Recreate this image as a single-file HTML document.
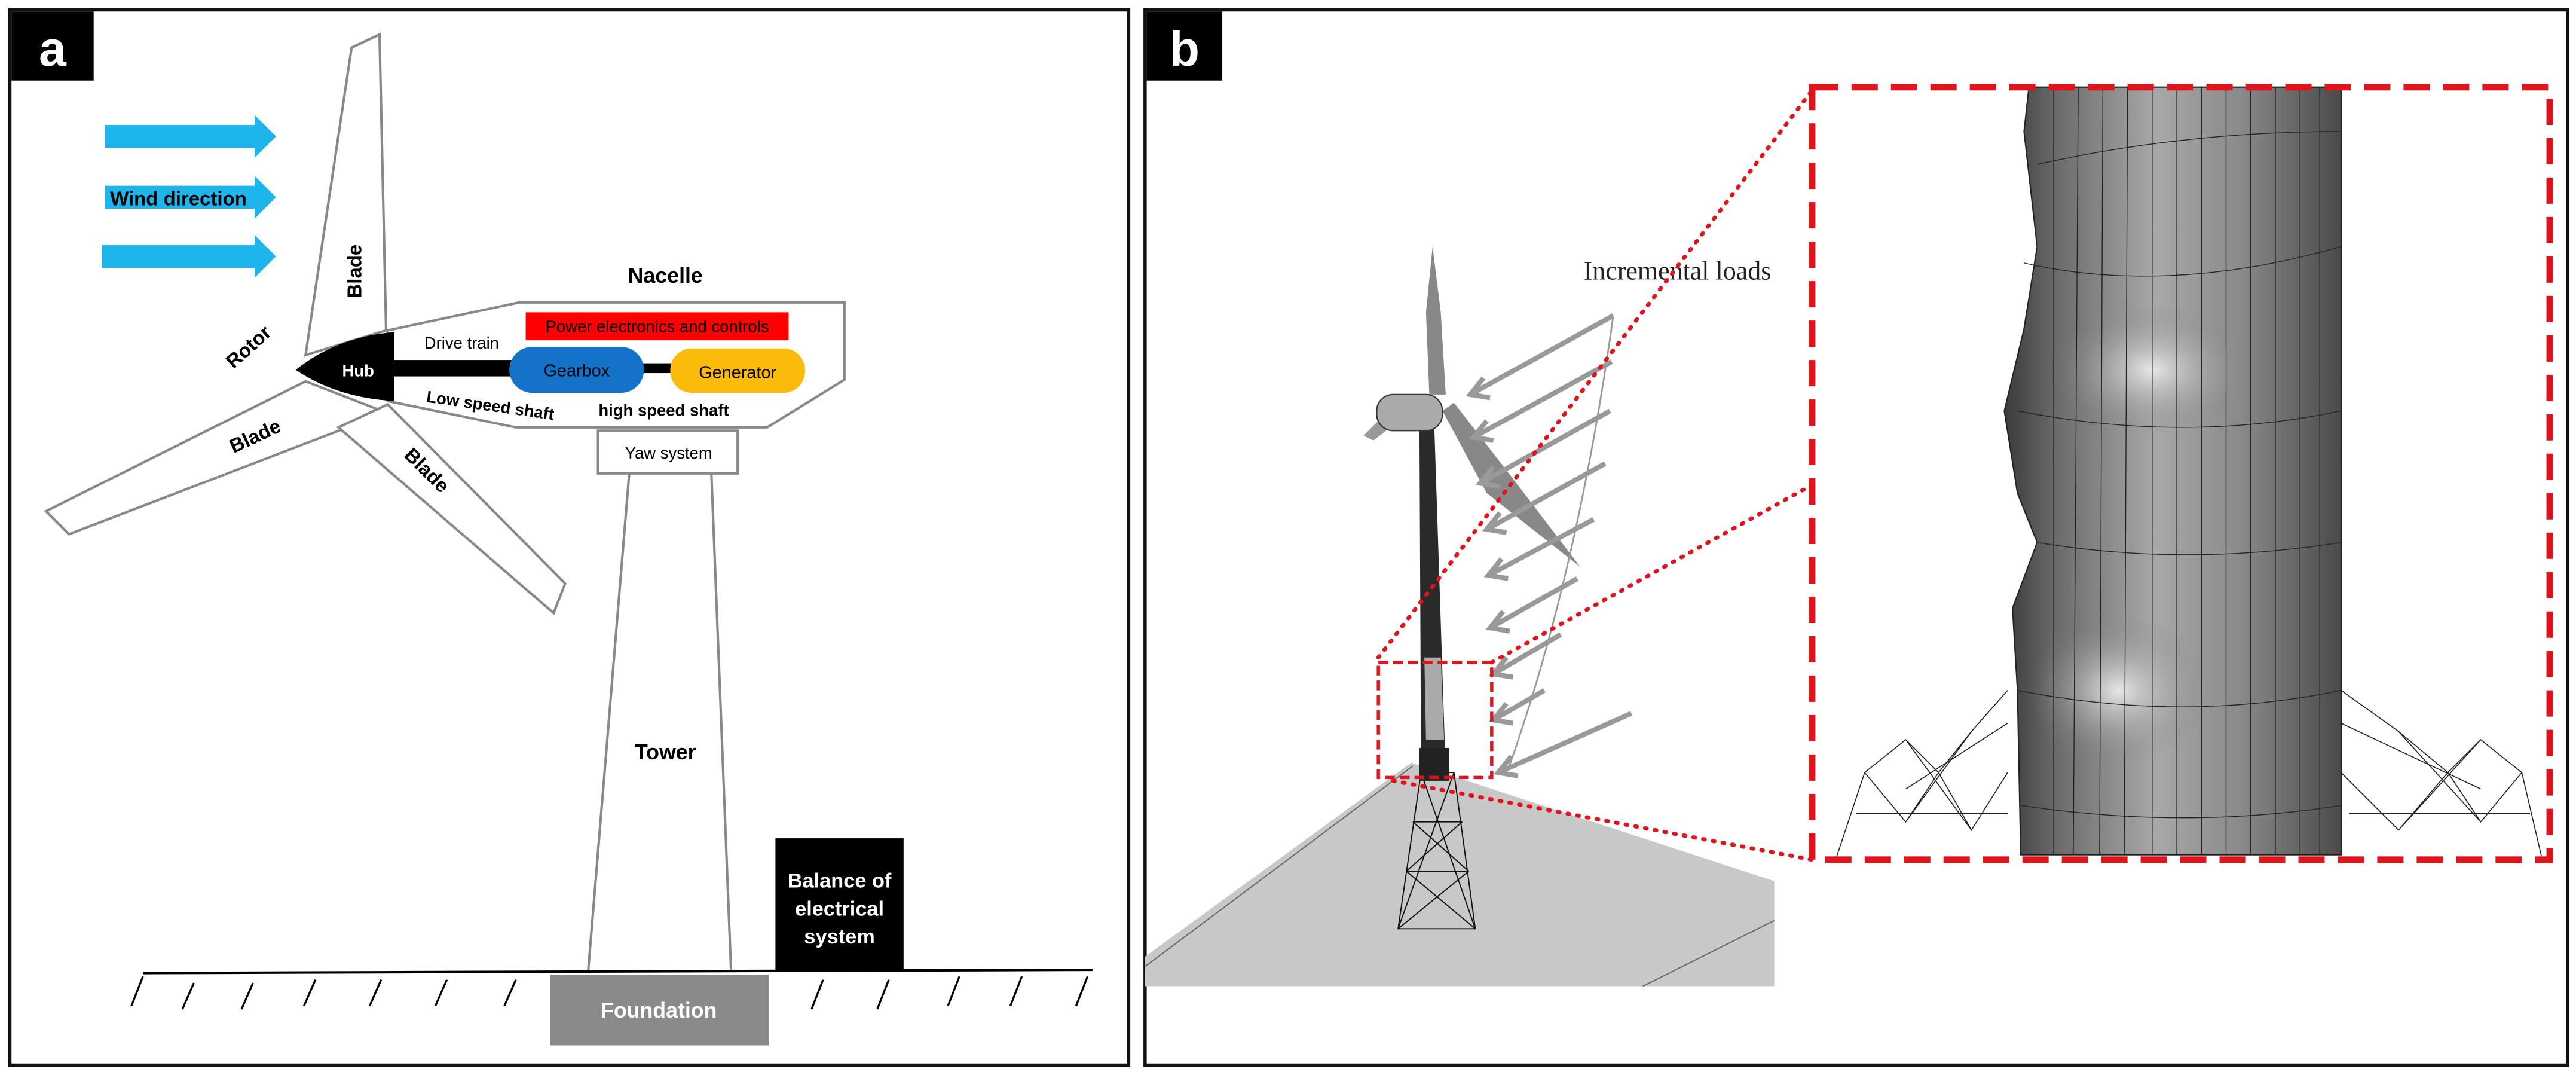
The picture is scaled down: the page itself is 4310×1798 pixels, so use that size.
<!DOCTYPE html>
<html><head><meta charset="utf-8"><style>
html,body{margin:0;padding:0;background:#fff;}
svg{display:block;}
text{font-family:"Liberation Sans",Arial,sans-serif;}
</style></head><body>
<svg width="4310" height="1798" viewBox="0 0 1568 654" preserveAspectRatio="none" xmlns="http://www.w3.org/2000/svg">
<defs>
<linearGradient id="cyl" x1="0" y1="0" x2="1" y2="0">
<stop offset="0" stop-color="#3a3a3a"/><stop offset="0.15" stop-color="#6a6a6a"/><stop offset="0.45" stop-color="#a8a8a8"/><stop offset="0.7" stop-color="#8a8a8a"/><stop offset="1" stop-color="#4a4a4a"/>
</linearGradient>
<radialGradient id="bul" cx="0.5" cy="0.5" r="0.5"><stop offset="0" stop-color="#e8e8e8"/><stop offset="1" stop-color="#808080" stop-opacity="0"/></radialGradient>
</defs>
<rect width="1568" height="654" fill="#fff"/>
<!-- Panel a -->
<rect x="6" y="6" width="681" height="642" fill="#fff" stroke="#111" stroke-width="2"/>
<rect x="7" y="7" width="50" height="42" fill="#000"/>
<text x="32" y="40" font-size="30" font-weight="bold" fill="#fff" text-anchor="middle">a</text>
<g fill="#1eb4ec">
<polygon points="64,76 155,76 155,70 168,83 155,96 155,90 64,90"/>
<polygon points="64,113 155,113 155,107 168,120 155,133 155,127 64,127"/>
<polygon points="62,149 155,149 155,143 168,156 155,169 155,163 62,163"/>
</g>
<text x="67" y="125" font-size="12" font-weight="bold" fill="#000">Wind direction</text>
<g fill="#fff" stroke="#888" stroke-width="1.5">
<polygon points="214,29 231,21 235,201 186,216"/>
<polygon points="186,232 28,311 42,325 235,251"/>
<polygon points="206,260 337,373 344,355 236,246"/>
<polygon points="236,201 316,184 514,184 514,231 467,260 314,260 236,244"/>
<rect x="364" y="262" width="85" height="26"/>
</g>
<path d="M180,225 Q205,205 240,202 L240,244 Q205,242 180,225 Z" fill="#000"/>
<text x="218" y="229" font-size="10" font-weight="bold" fill="#fff" text-anchor="middle">Hub</text>
<rect x="320" y="190" width="160" height="17" fill="#f00"/>
<text x="400" y="202" font-size="10" fill="#000" text-anchor="middle">Power electronics and controls</text>
<rect x="240" y="219" width="72" height="10" fill="#000"/>
<rect x="390" y="221" width="20" height="6" fill="#000"/>
<rect x="310" y="211" width="82" height="28" rx="14" fill="#1473c9"/>
<text x="351" y="229" font-size="10.5" fill="#000" text-anchor="middle">Gearbox</text>
<rect x="408" y="212" width="82" height="27" rx="13" fill="#fbbb0b"/>
<text x="449" y="230" font-size="10.5" fill="#000" text-anchor="middle">Generator</text>
<text x="405" y="172" font-size="13" font-weight="bold" text-anchor="middle">Nacelle</text>
<text x="281" y="212" font-size="10" text-anchor="middle">Drive train</text>
<text x="298" y="250" font-size="10" font-weight="bold" text-anchor="middle" transform="rotate(8 298 250)">Low speed shaft</text>
<text x="404" y="253" font-size="10" font-weight="bold" text-anchor="middle">high speed shaft</text>
<text x="407" y="279" font-size="10" text-anchor="middle">Yaw system</text>
<text x="154" y="214" font-size="12" font-weight="bold" text-anchor="middle" transform="rotate(-42 154 214)">Rotor</text>
<text x="220" y="165" font-size="12" font-weight="bold" text-anchor="middle" transform="rotate(-90 220 165)">Blade</text>
<text x="157" y="269" font-size="12" font-weight="bold" text-anchor="middle" transform="rotate(-25 157 269)">Blade</text>
<text x="257" y="289" font-size="12" font-weight="bold" text-anchor="middle" transform="rotate(45 257 289)">Blade</text>
<g stroke="#888" stroke-width="1.5" fill="none">
<line x1="383" y1="288" x2="358" y2="591"/>
<line x1="433" y1="288" x2="445" y2="591"/>
</g>
<text x="405" y="462" font-size="13" font-weight="bold" text-anchor="middle">Tower</text>
<rect x="472" y="510" width="78" height="81" fill="#000"/>
<text x="511" y="540" font-size="12.5" font-weight="bold" fill="#fff" text-anchor="middle">Balance of</text>
<text x="511" y="557" font-size="12.5" font-weight="bold" fill="#fff" text-anchor="middle">electrical</text>
<text x="511" y="574" font-size="12.5" font-weight="bold" fill="#fff" text-anchor="middle">system</text>
<line x1="87" y1="592" x2="665" y2="590" stroke="#000" stroke-width="1.5"/>
<g stroke="#000" stroke-width="1.2">
<line x1="87" y1="594" x2="80" y2="612"/><line x1="118" y1="598" x2="111" y2="614"/>
<line x1="154" y1="598" x2="147" y2="614"/><line x1="192" y1="596" x2="185" y2="612"/>
<line x1="232" y1="596" x2="225" y2="612"/><line x1="272" y1="596" x2="265" y2="612"/>
<line x1="314" y1="596" x2="307" y2="612"/>
<line x1="501" y1="596" x2="494" y2="614"/><line x1="541" y1="596" x2="534" y2="614"/>
<line x1="584" y1="594" x2="577" y2="612"/><line x1="622" y1="594" x2="615" y2="612"/>
<line x1="662" y1="594" x2="655" y2="612"/>
</g>
<rect x="335" y="593" width="133" height="43" fill="#8a8a8a"/>
<text x="401" y="619" font-size="13" font-weight="bold" fill="#fff" text-anchor="middle">Foundation</text>
<!-- Panel b -->
<rect x="697" y="6" width="866" height="642" fill="#fff" stroke="#111" stroke-width="2"/>
<rect x="698" y="7" width="46" height="42" fill="#000"/>
<text x="721" y="40" font-size="30" font-weight="bold" fill="#fff" text-anchor="middle">b</text>
<polygon points="697,582 859,464 1080,536 1080,600 697,600" fill="#c8c8c8"/>
<line x1="697" y1="588" x2="860" y2="466" stroke="#666" stroke-width="0.7"/>
<line x1="1000" y1="600" x2="1080" y2="560" stroke="#666" stroke-width="0.7"/>
<g stroke="#111" stroke-width="0.7" fill="none">
<polygon points="865,470 885,470 898,565 851,565"/>
<line x1="865" y1="470" x2="898" y2="565"/><line x1="885" y1="470" x2="851" y2="565"/>
<line x1="860" y1="500" x2="890" y2="500"/><line x1="856" y1="530" x2="894" y2="530"/>
<line x1="860" y1="500" x2="894" y2="530"/><line x1="890" y1="500" x2="856" y2="530"/>
<line x1="856" y1="530" x2="898" y2="565"/><line x1="894" y1="530" x2="851" y2="565"/>
</g>
<polygon points="864,258 873,258 880,470 865,470" fill="#2a2a2a"/>
<polygon points="867,400 877,400 879,450 868,450" fill="#aaa"/>
<rect x="864" y="455" width="18" height="20" fill="#222"/>
<polygon points="872,150 877,190 880,240 870,240 868,190" fill="#888"/>
<polygon points="855,240 830,265 836,268 862,248" fill="#999"/>
<polygon points="878,250 905,300 962,345 920,290 885,245" fill="#888"/>
<rect x="838" y="240" width="40" height="22" rx="10" fill="#aaa" stroke="#333" stroke-width="0.8"/>
<path d="M982,192 Q960,350 918,468" fill="none" stroke="#999" stroke-width="1"/>
<g stroke="#999" stroke-width="3" fill="none">
<line x1="982" y1="192" x2="895" y2="240"/><polyline points="903,230 895,240 907,242"/>
<line x1="981" y1="220" x2="897" y2="266"/><polyline points="905,256 897,266 909,268"/>
<line x1="980" y1="250" x2="901" y2="294"/><polyline points="909,284 901,294 913,296"/>
<line x1="977" y1="282" x2="905" y2="322"/><polyline points="913,312 905,322 917,324"/>
<line x1="970" y1="316" x2="906" y2="350"/><polyline points="914,340 906,350 918,352"/>
<line x1="960" y1="352" x2="907" y2="382"/><polyline points="915,372 907,382 919,384"/>
<line x1="950" y1="386" x2="909" y2="410"/><polyline points="917,400 909,410 921,412"/>
<line x1="940" y1="420" x2="909" y2="438"/><polyline points="917,428 909,438 921,440"/>
<line x1="993" y1="434" x2="912" y2="470"/><polyline points="920,460 912,470 924,472"/>
</g>
<text x="1021" y="170" font-size="16" fill="#222" text-anchor="middle" style="font-family:'Liberation Serif',serif">Incremental loads</text>
<g stroke="#222" stroke-width="0.6" fill="none">
<path d="M1118,521 L1135,470 L1160,450 L1180,470 L1200,445 L1222,420"/>
<path d="M1547,521 L1535,470 L1510,450 L1490,470 L1460,445 L1425,420"/>
<path d="M1135,470 L1160,500 L1180,470 L1200,505 L1222,470 M1160,450 L1200,505 M1200,445 L1160,500"/>
<path d="M1535,470 L1510,500 L1490,470 L1460,505 L1425,470 M1510,450 L1460,505 M1460,445 L1510,500"/>
<path d="M1130,495 L1222,495 M1430,495 L1540,495 M1222,440 L1160,480 M1425,440 L1510,480"/>
</g>
<path d="M1235,53 L1425,53 L1425,520 L1230,520 L1228,420 L1225,370 L1240,330 L1228,300 L1220,250 L1232,200 L1240,150 L1232,80 Z" fill="url(#cyl)" stroke="#222" stroke-width="0.8"/>
<ellipse cx="1310" cy="225" rx="60" ry="40" fill="url(#bul)"/>
<ellipse cx="1290" cy="420" rx="55" ry="45" fill="url(#bul)"/>
<g stroke="#222" stroke-width="0.5" fill="none">
<line x1="1250" y1="53" x2="1250" y2="520"/><line x1="1265" y1="53" x2="1262" y2="520"/>
<line x1="1280" y1="53" x2="1278" y2="520"/><line x1="1295" y1="53" x2="1293" y2="520"/>
<line x1="1310" y1="53" x2="1310" y2="520"/><line x1="1325" y1="53" x2="1325" y2="520"/>
<line x1="1340" y1="53" x2="1340" y2="520"/><line x1="1355" y1="53" x2="1355" y2="520"/>
<line x1="1370" y1="53" x2="1370" y2="520"/><line x1="1385" y1="53" x2="1385" y2="520"/>
<line x1="1400" y1="53" x2="1400" y2="520"/><line x1="1412" y1="53" x2="1412" y2="520"/>
<path d="M1240,100 Q1330,80 1425,80"/><path d="M1232,160 Q1320,180 1425,150"/>
<path d="M1228,250 Q1330,270 1425,250"/><path d="M1240,330 Q1330,345 1425,330"/>
<path d="M1228,420 Q1330,440 1425,420"/><path d="M1230,490 Q1330,505 1425,490"/>
</g>
<rect x="1103" y="53" width="449" height="470" fill="none" stroke="#e0141c" stroke-width="4" stroke-dasharray="16,8"/>
<rect x="839" y="403" width="69" height="70" fill="none" stroke="#e0141c" stroke-width="2" stroke-dasharray="6,3"/>
<g stroke="#e0141c" stroke-width="2.5" stroke-dasharray="1,5" stroke-linecap="round" fill="none">
<line x1="839" y1="400" x2="1103" y2="55"/>
<line x1="908" y1="403" x2="1103" y2="295"/>
<line x1="848" y1="475" x2="1103" y2="523"/>
</g>
</svg>
</body></html>
